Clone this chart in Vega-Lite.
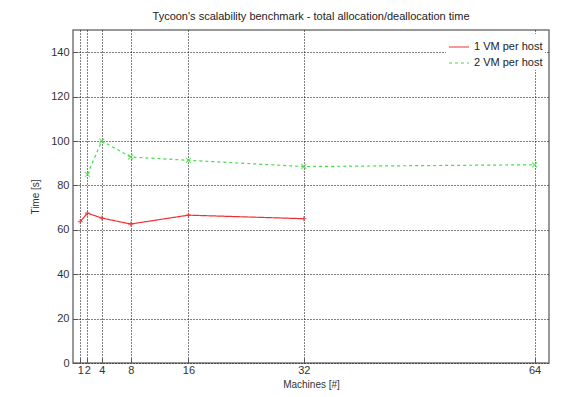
{
  "$schema": "https://vega.github.io/schema/vega-lite/v6.json",
  "width": 476,
  "height": 333,
  "autosize": {"type": "none"},
  "padding": {"left": 73, "top": 30, "right": 25, "bottom": 34},
  "background": "white",
  "title": {"text": "Tycoon's scalability benchmark - total allocation/deallocation time", "font": "Liberation Sans", "fontSize": 11, "fontWeight": "normal", "color": "#222", "offset": 8, "anchor": "middle"},
  "config": {
    "view": {"stroke": "#777", "strokeWidth": 1.5},
    "axis": {"labelFont": "Liberation Sans", "titleFont": "Liberation Sans", "labelFontSize": 11, "titleFontSize": 10, "titleFontWeight": "normal", "labelColor": "#333", "titleColor": "#333", "gridColor": "#000", "gridDash": [1, 2], "gridOpacity": 1, "gridWidth": 1, "domain": false, "tickColor": "#555", "tickSize": -5}
  },
  "data": {"values": [
    {"machines": 1, "time": 63.7, "series": "1 VM per host"},
    {"machines": 2, "time": 67.5, "series": "1 VM per host"},
    {"machines": 4, "time": 65.3, "series": "1 VM per host"},
    {"machines": 8, "time": 62.6, "series": "1 VM per host"},
    {"machines": 16, "time": 66.6, "series": "1 VM per host"},
    {"machines": 32, "time": 65.0, "series": "1 VM per host"},
    {"machines": 2, "time": 85.0, "series": "2 VM per host"},
    {"machines": 4, "time": 100.0, "series": "2 VM per host"},
    {"machines": 8, "time": 92.8, "series": "2 VM per host"},
    {"machines": 16, "time": 91.3, "series": "2 VM per host"},
    {"machines": 32, "time": 88.5, "series": "2 VM per host"},
    {"machines": 64, "time": 89.3, "series": "2 VM per host"}
  ]},
  "layer": [
    {
      "mark": {"type": "line", "strokeWidth": 1.2},
      "encoding": {
        "x": {"field": "machines", "type": "quantitative", "scale": {"domain": [0, 66], "nice": false}, "axis": {"values": [1, 2, 4, 8, 16, 32, 64], "title": "Machines [#]", "labelPadding": 6, "titlePadding": 4, "labelOverlap": false}},
        "y": {"field": "time", "type": "quantitative", "scale": {"domain": [0, 150], "nice": false}, "axis": {"values": [0, 20, 40, 60, 80, 100, 120, 140], "title": "Time [s]", "labelPadding": 9, "titlePadding": 10}},
        "color": {"field": "series", "type": "nominal", "scale": {"domain": ["1 VM per host", "2 VM per host"], "range": ["#f03030", "#44dd44"]}, "legend": {"orient": "top-right", "title": null, "labelFont": "Liberation Sans", "labelFontSize": 11, "labelColor": "#222", "symbolType": "stroke", "symbolSize": 400, "symbolStrokeWidth": 1.2, "rowPadding": 0, "offset": 4, "padding": 2, "fillColor": "white"}},
        "strokeDash": {"field": "series", "type": "nominal", "scale": {"domain": ["1 VM per host", "2 VM per host"], "range": [[1, 0], [3, 3]]}, "legend": null}
      }
    },
    {
      "transform": [{"filter": "datum.series === '1 VM per host'"}],
      "mark": {"type": "point", "filled": false, "strokeWidth": 1.2, "size": 25, "color": "#f03030", "shape": "M-1,0L1,0M0,-1L0,1"},
      "encoding": {
        "x": {"field": "machines", "type": "quantitative"},
        "y": {"field": "time", "type": "quantitative"}
      }
    },
    {
      "transform": [{"filter": "datum.series === '2 VM per host'"}],
      "mark": {"type": "point", "filled": false, "strokeWidth": 1.2, "size": 25, "color": "#44dd44", "shape": "M-1,-1L1,1M1,-1L-1,1"},
      "encoding": {
        "x": {"field": "machines", "type": "quantitative"},
        "y": {"field": "time", "type": "quantitative"}
      }
    }
  ]
}
